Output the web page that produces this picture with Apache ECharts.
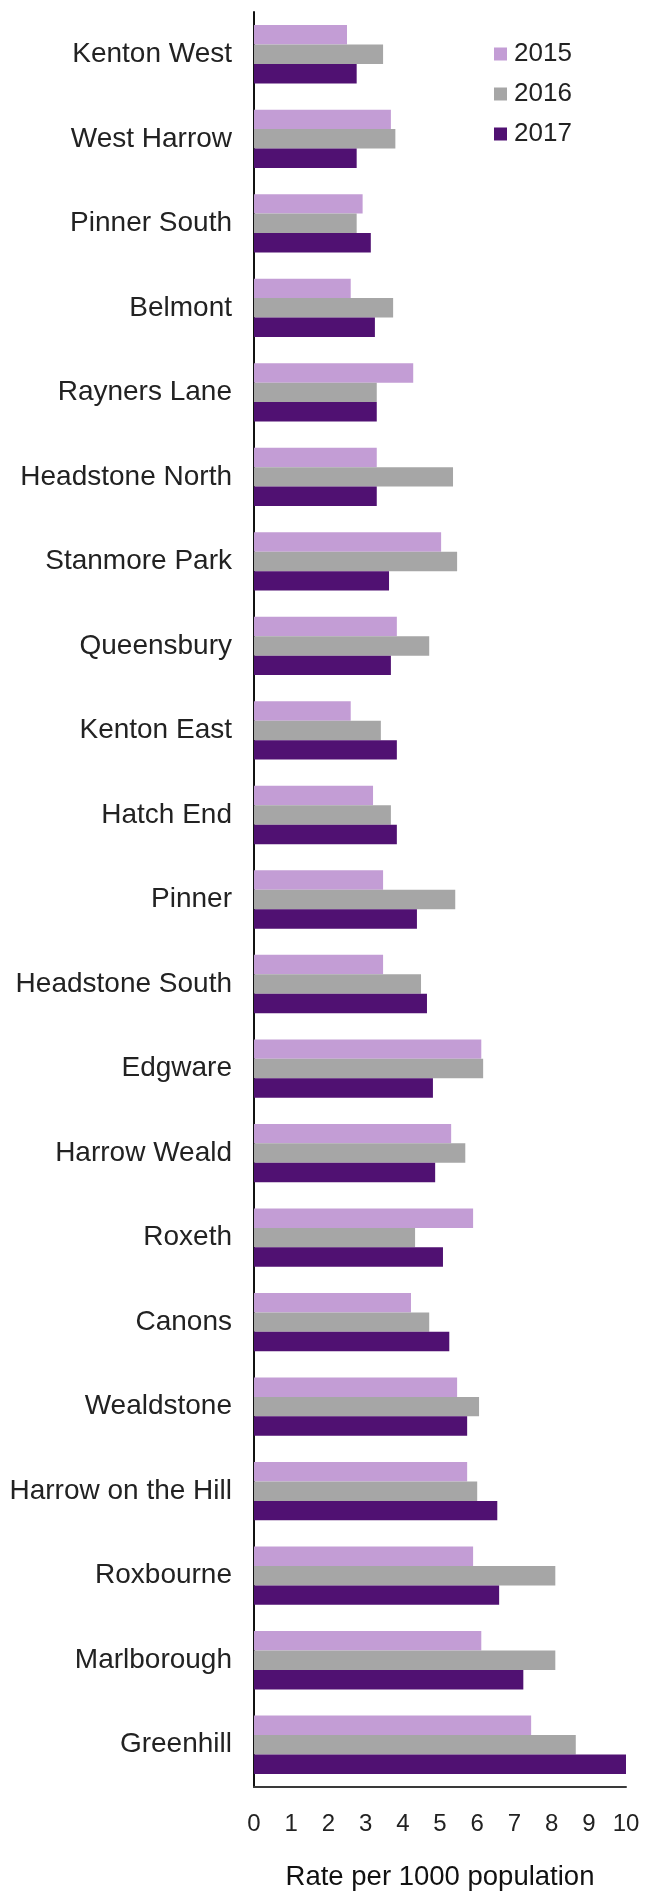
<!DOCTYPE html>
<html>
<head>
<meta charset="utf-8">
<script src="https://cdn.jsdelivr.net/npm/echarts@6/dist/echarts.min.js"></script>
<style>
html,body{margin:0;padding:0;background:#fff;}
#chart{width:645px;height:1896px;}
</style>
</head>
<body>
<div id="chart"></div>
<script>
const categories = ["Kenton West","West Harrow","Pinner South","Belmont","Rayners Lane","Headstone North","Stanmore Park","Queensbury","Kenton East","Hatch End","Pinner","Headstone South","Edgware","Harrow Weald","Roxeth","Canons","Wealdstone","Harrow on the Hill","Roxbourne","Marlborough","Greenhill"];
const values2015 = [2.5,3.68,2.92,2.6,4.28,3.3,5.03,3.84,2.6,3.2,3.47,3.47,6.11,5.3,5.89,4.22,5.46,5.73,5.89,6.11,7.45];
const values2016 = [3.47,3.8,2.76,3.74,3.3,5.35,5.46,4.71,3.41,3.68,5.41,4.49,6.16,5.68,4.33,4.71,6.05,6.0,8.1,8.1,8.65];
const values2017 = [2.76,2.76,3.14,3.25,3.3,3.3,3.63,3.68,3.84,3.84,4.38,4.65,4.81,4.87,5.08,5.25,5.73,6.54,6.59,7.24,10.0];
const seriesNames = ["2015","2016","2017"];
const xTicks = [0,1,2,3,4,5,6,7,8,9,10];

const colors = ["#C39DD5","#A6A6A6","#501172"];
const font = "'Liberation Sans', Arial, sans-serif";

const chart = echarts.init(document.getElementById('chart'), null, {renderer:'canvas'});
const data = [values2015, values2016, values2017];
chart.setOption({
  animation: false,
  backgroundColor: '#fff',
  textStyle: {fontFamily: font},
  grid: {left: 254, right: 19, top: 12, bottom: 102, containLabel: false},
  legend: {
    orient: 'vertical', left: 489, top: 36,
    itemWidth: 13, itemHeight: 13, itemGap: 14,
    icon: 'rect',
    data: seriesNames,
    textStyle: {fontSize: 26, color: '#222', fontFamily: font, lineHeight: 26, padding: [0,0,0,2]}
  },
  xAxis: {
    type: 'value', min: xTicks[0], max: xTicks[xTicks.length-1], interval: 1,
    axisLine: {show: true, lineStyle: {color: '#3a3a3a', width: 2}},
    axisTick: {show: false},
    splitLine: {show: false},
    axisLabel: {fontSize: 24, color: '#222', margin: 25, fontFamily: font},
    name: 'Rate per 1000 population', nameLocation: 'middle', nameGap: 76,
    nameTextStyle: {fontSize: 27.5, color: '#111', fontFamily: font}
  },
  yAxis: {
    type: 'category', data: categories, inverse: true,
    axisLine: {show: true, onZero: false, lineStyle: {color: '#111', width: 2}},
    axisTick: {show: false},
    axisLabel: {fontSize: 28, color: '#222', margin: 22, fontFamily: font}
  },
  series: seriesNames.map((n, i) => ({
    name: n, type: 'bar', data: data[i],
    barGap: '0%', barCategoryGap: '31%',
    itemStyle: {color: colors[i]}
  }))
});
</script>
</body>
</html>
